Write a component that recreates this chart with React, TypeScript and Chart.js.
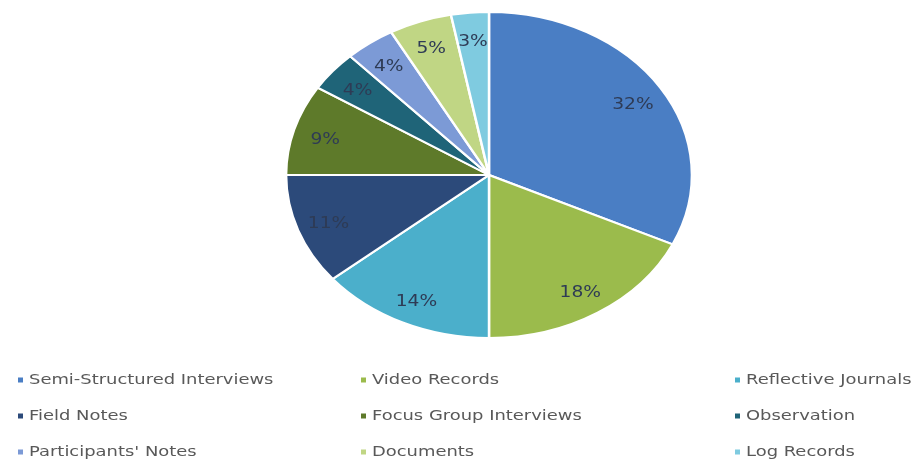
import React, { useEffect, useRef } from "react";
import { Chart, registerables } from "chart.js";

Chart.register(...registerables);

const categories = [
  "Semi-Structured Interviews",
  "Video Records",
  "Reflective Journals",
  "Field Notes",
  "Focus Group Interviews",
  "Observation",
  "Participants' Notes",
  "Documents",
  "Log Records",
];
const values = [32, 18, 14, 11, 9, 4, 4, 5, 3];
const colors = [
  "#4A7EC4",
  "#9BBB4C",
  "#4BAFCB",
  "#2C4A7A",
  "#5E7A2A",
  "#1F6478",
  "#7C9AD6",
  "#C0D684",
  "#7FCBE0",
];

const SX = 1.245;
const FONT = "DejaVu Sans";

const stretchPlugin = {
  id: "stretchPie",
  beforeDatasetsDraw(chart: any) {
    const meta = chart.getDatasetMeta(0);
    const cx = meta.data[0].x;
    const ctx = chart.ctx;
    ctx.save();
    ctx.translate(cx, 0);
    ctx.scale(SX, 1);
    ctx.translate(-cx, 0);
  },
  afterDatasetsDraw(chart: any) {
    const ctx = chart.ctx;
    ctx.restore();
    const meta = chart.getDatasetMeta(0);
    const total = values.reduce((a, b) => a + b, 0);
    ctx.save();
    ctx.font = `15px "${FONT}"`;
    ctx.fillStyle = "#2E3B55";
    ctx.textAlign = "center";
    ctx.textBaseline = "middle";
    meta.data.forEach((arc: any, i: number) => {
      const a = (arc.startAngle + arc.endAngle) / 2;
      const r = arc.outerRadius * 0.84;
      const x = arc.x + SX * r * Math.cos(a);
      const y = arc.y + r * Math.sin(a) + 3;
      const pct = Math.round((values[i] / total) * 100) + "%";
      ctx.save();
      ctx.translate(x, y);
      ctx.scale(SX, 1);
      ctx.fillText(pct, 0, 0);
      ctx.restore();
    });
    ctx.restore();
  },
  afterDraw(chart: any) {
    const ctx = chart.ctx;
    const colX = [20, 363, 737];
    const rowY = [380, 416, 452];
    ctx.save();
    ctx.font = `14px "${FONT}"`;
    ctx.textBaseline = "middle";
    ctx.textAlign = "left";
    categories.forEach((label, i) => {
      const c = i % 3;
      const r = Math.floor(i / 3);
      const x = colX[c];
      const y = rowY[r];
      ctx.fillStyle = colors[i];
      ctx.fillRect(x - 2, y - 2.5, 5, 5);
      ctx.fillStyle = "#595959";
      ctx.save();
      ctx.translate(x + 9, y);
      ctx.scale(1.28, 1);
      ctx.fillText(label, 0, 0);
      ctx.restore();
    });
    ctx.restore();
  },
};

export default function App() {
  const ref = useRef<HTMLCanvasElement>(null);
  useEffect(() => {
    if (!ref.current) return;
    const chart = new Chart(ref.current, {
      type: "pie",
      data: {
        labels: categories,
        datasets: [
          {
            data: values,
            backgroundColor: colors,
            borderColor: "#FFFFFF",
            borderWidth: 2,
          },
        ],
      },
      options: {
        animation: false,
        responsive: true,
        maintainAspectRatio: false,
        layout: { padding: { top: 11, bottom: 125, left: 200, right: 140 } },
        plugins: {
          legend: { display: false },
          tooltip: { enabled: false },
        },
      },
      plugins: [stretchPlugin],
    });
    return () => chart.destroy();
  }, []);
  return (
    <div style={{ position: "fixed", left: 0, top: 0, width: 918, height: 464, background: "#fff" }}>
      <canvas ref={ref} />
    </div>
  );
}
